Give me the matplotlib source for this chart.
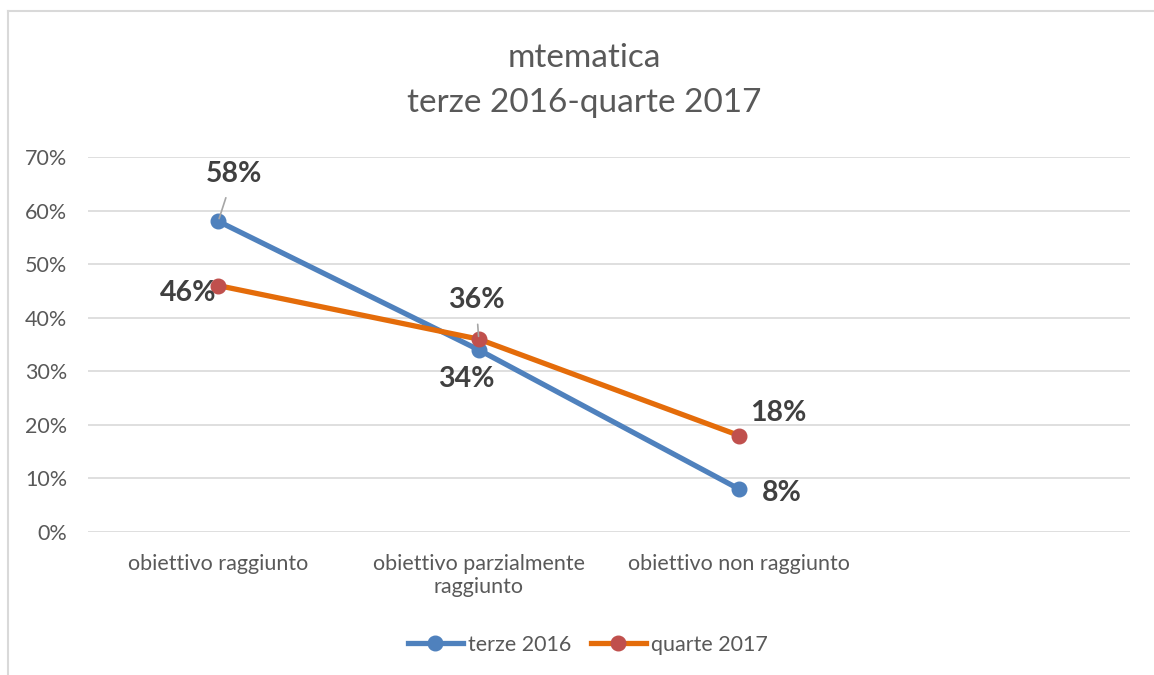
import numpy as np
import matplotlib.pyplot as plt
from matplotlib.lines import Line2D

categories = ['obiettivo raggiunto', 'obiettivo parzialmente\nraggiunto', 'obiettivo non raggiunto']
terze_2016 = [0.58, 0.34, 0.08]
quarte_2017 = [0.46, 0.36, 0.18]
yticks = np.arange(0, 0.71, 0.1)

blue = '#4F81BD'
orange = '#E46C0A'
red = '#C0504D'
txt = '#595959'
lbl = '#404040'

plt.rcParams['font.family'] = ['Lato', 'DejaVu Sans']
fig = plt.figure(figsize=(11.54, 6.75), dpi=100)
ax = fig.add_axes([88/1154, 1-532/675, (1130-88)/1154, (532-157)/675])

x = np.arange(len(categories))
kw = dict(linewidth=3.8, marker='o', markersize=10.5, solid_capstyle='round', zorder=3, clip_on=False)
ax.plot(x, terze_2016, color=blue, markerfacecolor=blue, markeredgecolor=blue, **kw)
ax.plot(x, quarte_2017, color=orange, markerfacecolor=red, markeredgecolor=red, **kw)

ax.set_xlim(-0.5, 3.5)
ax.set_ylim(0, 0.7)
ax.set_yticks(yticks)
ax.set_yticklabels(['{:.0f}%'.format(v*100) for v in yticks])
ax.set_xticks(x)
ax.set_xticklabels(categories)
ax.tick_params(axis='both', length=0, labelsize=15.5, labelcolor=txt)
ax.tick_params(axis='y', pad=15)
ax.tick_params(axis='x', pad=16)
for s in ax.spines.values():
    s.set_visible(False)
ax.grid(axis='y', color='#D9D9D9', linewidth=1.2)
ax.set_axisbelow(True)

# data labels (offsets in points)
lab = dict(fontsize=20.5, fontweight='bold', color=lbl, ha='center', va='center', textcoords='offset points')
leader = dict(arrowstyle='-', color='#A6A6A6', lw=1.2, shrinkA=6, shrinkB=2)
ax.annotate('58%', xy=(x[0], terze_2016[0]), xytext=(11, 34), arrowprops=leader, **lab)
ax.annotate('34%', xy=(x[1], terze_2016[1]), xytext=(-9, -21), **lab)
ax.annotate('8%', xy=(x[2], terze_2016[2]), xytext=(31, -3), **lab)
ax.annotate('46%', xy=(x[0], quarte_2017[0]), xytext=(-22, -5), **lab)
ax.annotate('36%', xy=(x[1], quarte_2017[1]), xytext=(-2, 28), arrowprops=leader, **lab)
ax.annotate('18%', xy=(x[2], quarte_2017[2]), xytext=(28, 16), **lab)

fig.text(584/1154, 1-58/675, 'mtematica', ha='center', va='center', fontsize=24, color=txt)
fig.text(584/1154, 1-103/675, 'terze 2016-quarte 2017', ha='center', va='center', fontsize=24, color=txt)

handles = [Line2D([], [], color=blue, lw=3.8, marker='o', markersize=10.5, markerfacecolor=blue, markeredgecolor=blue),
           Line2D([], [], color=orange, lw=3.8, marker='o', markersize=10.5, markerfacecolor=red, markeredgecolor=red)]
fig.legend(handles, ['terze 2016', 'quarte 2017'], loc='center', bbox_to_anchor=(588/1154, 1-645/675),
           ncol=2, frameon=False, fontsize=15.5, labelcolor=txt, handlelength=2.55, handletextpad=0.25, columnspacing=0.9)

# chart border
fig.add_artist(Line2D([8/1154, 8/1154], [0, 1-11/675], color='#D9D9D9', lw=1.5))
fig.add_artist(Line2D([8/1154, 1], [1-11/675, 1-11/675], color='#D9D9D9', lw=1.5))

fig.savefig('out.png', dpi=100)
